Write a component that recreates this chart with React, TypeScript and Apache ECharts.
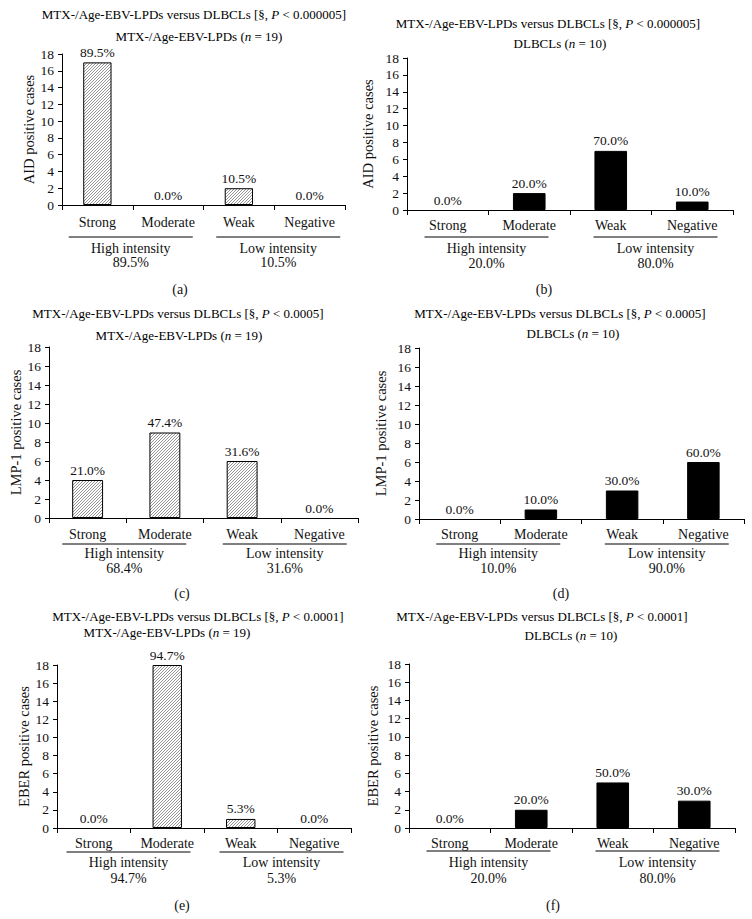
import React, { useEffect, useRef } from "react";
import * as echarts from "echarts";

// ---------- data ----------
const CATEGORIES = ["Strong", "Moderate", "Weak", "Negative"];
const GROUPS = ["High intensity", "Low intensity"];
const Y_NAMES = ["AID positive cases", "LMP-1 positive cases", "EBER positive cases"];
const P_VALUES = ["0.000005", "0.0005", "0.0001"];
const COHORTS = ["MTX-/Age-EBV-LPDs", "DLBCLs"];
const COHORT_N = ["19", "10"];
const PANEL_TAGS = ["(a)", "(b)", "(c)", "(d)", "(e)", "(f)"];
const Y_MIN = 0;
const Y_MAX = 18;
const Y_INTERVAL = 2;

const AID_MTX = [17, 0, 2, 0];
const AID_MTX_PCT = ["89.5%", "0.0%", "10.5%", "0.0%"];
const AID_MTX_GROUP_PCT = ["89.5%", "10.5%"];

const AID_DLBCL = [0, 2, 7, 1];
const AID_DLBCL_PCT = ["0.0%", "20.0%", "70.0%", "10.0%"];
const AID_DLBCL_GROUP_PCT = ["20.0%", "80.0%"];

const LMP_MTX = [4, 9, 6, 0];
const LMP_MTX_PCT = ["21.0%", "47.4%", "31.6%", "0.0%"];
const LMP_MTX_GROUP_PCT = ["68.4%", "31.6%"];

const LMP_DLBCL = [0, 1, 3, 6];
const LMP_DLBCL_PCT = ["0.0%", "10.0%", "30.0%", "60.0%"];
const LMP_DLBCL_GROUP_PCT = ["10.0%", "90.0%"];

const EBER_MTX = [0, 18, 1, 0];
const EBER_MTX_PCT = ["0.0%", "94.7%", "5.3%", "0.0%"];
const EBER_MTX_GROUP_PCT = ["94.7%", "5.3%"];

const EBER_DLBCL = [0, 2, 5, 3];
const EBER_DLBCL_PCT = ["0.0%", "20.0%", "50.0%", "30.0%"];
const EBER_DLBCL_GROUP_PCT = ["20.0%", "80.0%"];

const PANELS = [
  { values: AID_MTX, pcts: AID_MTX_PCT, groupPcts: AID_MTX_GROUP_PCT, marker: 0, cohort: 0 },
  { values: AID_DLBCL, pcts: AID_DLBCL_PCT, groupPcts: AID_DLBCL_GROUP_PCT, marker: 0, cohort: 1 },
  { values: LMP_MTX, pcts: LMP_MTX_PCT, groupPcts: LMP_MTX_GROUP_PCT, marker: 1, cohort: 0 },
  { values: LMP_DLBCL, pcts: LMP_DLBCL_PCT, groupPcts: LMP_DLBCL_GROUP_PCT, marker: 1, cohort: 1 },
  { values: EBER_MTX, pcts: EBER_MTX_PCT, groupPcts: EBER_MTX_GROUP_PCT, marker: 2, cohort: 0 },
  { values: EBER_DLBCL, pcts: EBER_DLBCL_PCT, groupPcts: EBER_DLBCL_GROUP_PCT, marker: 2, cohort: 1 },
];

// ---------- layout (positions / sizes only) ----------
const LAYOUT = [
  { left: 62, top: 54, width: 283, height: 151, t1: [194, 14], t2: [199, 36], catMargin: 10, lineY: 237, g1Y: 248, g2Y: 262, tag: [180, 289], nameGap: 26 },
  { left: 407, top: 58, width: 326, height: 152, t1: [548, 23], t2: [560, 43], catMargin: 8, lineY: 237, g1Y: 248, g2Y: 263, tag: [544, 289], nameGap: 32 },
  { left: 49, top: 347, width: 309, height: 171, t1: [178, 313], t2: [179, 335], catMargin: 9, lineY: 544, g1Y: 553, g2Y: 568, tag: [182, 593], nameGap: 26 },
  { left: 419, top: 348, width: 325, height: 171, t1: [560, 313], t2: [573, 333], catMargin: 8, lineY: 544, g1Y: 553, g2Y: 568, tag: [561, 593], nameGap: 31 },
  { left: 57, top: 665, width: 294, height: 163, t1: [198, 616], t2: [167, 632], catMargin: 8, lineY: 852, g1Y: 862, g2Y: 878, tag: [182, 905], nameGap: 26 },
  { left: 409, top: 664, width: 326, height: 164, t1: [542, 616], t2: [571, 635], catMargin: 8, lineY: 851, g1Y: 862, g2Y: 878, tag: [553, 905], nameGap: 29 },
];

const FONT = '"Liberation Serif", "Times New Roman", serif';
const INK = "#111111";

function makeHatch(): HTMLCanvasElement {
  const c = document.createElement("canvas");
  const s = 6;
  c.width = s;
  c.height = s;
  const ctx = c.getContext("2d")!;
  ctx.fillStyle = "#ffffff";
  ctx.fillRect(0, 0, s, s);
  ctx.strokeStyle = "#666666";
  ctx.lineWidth = 0.7;
  for (let k = -3; k <= 15; k += 3) {
    ctx.beginPath();
    ctx.moveTo(k, 0);
    ctx.lineTo(k - s, s);
    ctx.stroke();
  }
  return c;
}

export default function App() {
  const ref = useRef<HTMLDivElement>(null);

  useEffect(() => {
    if (!ref.current) return;
    const chart = echarts.init(ref.current, null, { renderer: "svg", width: 752, height: 919 });
    const hatch = makeHatch();

    const grids: any[] = [];
    const xAxes: any[] = [];
    const yAxes: any[] = [];
    const series: any[] = [];
    const graphics: any[] = [];

    PANELS.forEach((p, i) => {
      const L = LAYOUT[i];
      grids.push({ left: L.left, top: L.top, width: L.width, height: L.height, containLabel: false });
      xAxes.push({
        type: "category",
        gridIndex: i,
        data: CATEGORIES,
        axisLine: { show: true, lineStyle: { color: "#000", width: 1 } },
        axisTick: { show: true, length: 5, lineStyle: { color: "#000" } },
        axisLabel: { margin: L.catMargin, fontFamily: FONT, fontSize: 14, color: INK, interval: 0 },
        splitLine: { show: false },
      });
      yAxes.push({
        type: "value",
        gridIndex: i,
        min: Y_MIN,
        max: Y_MAX,
        interval: Y_INTERVAL,
        name: Y_NAMES[p.marker],
        nameLocation: "middle",
        nameGap: L.nameGap,
        nameTextStyle: { fontFamily: FONT, fontSize: 14.5, color: INK },
        axisLine: { show: true, lineStyle: { color: "#000", width: 1 } },
        axisTick: { show: true, length: 4, lineStyle: { color: "#000" } },
        axisLabel: { margin: 8, fontFamily: FONT, fontSize: 13.5, color: INK },
        splitLine: { show: false },
      });
      const hatched = p.cohort === 0;
      series.push({
        type: "bar",
        xAxisIndex: i,
        yAxisIndex: i,
        data: p.values.map((v) => (v === 0 ? { value: v, itemStyle: { borderWidth: 0, opacity: 0 } } : v)),
        barWidth: "40%",
        itemStyle: {
          color: hatched ? { image: hatch, repeat: "repeat" } : "#000",
          borderColor: "#000",
          borderWidth: 1,
        },
        label: {
          show: true,
          position: "top",
          distance: 3,
          fontFamily: FONT,
          fontSize: 13.5,
          color: INK,
          opacity: 1,
          formatter: (prm: any) => p.pcts[prm.dataIndex],
        },
        emphasis: { disabled: true },
      });

      // titles
      const titleRich = {
        r: { fontFamily: FONT, fontSize: 13, color: INK },
        i: { fontFamily: FONT, fontSize: 13, color: INK, fontStyle: "italic" },
      };
      graphics.push({
        type: "text",
        x: L.t1[0],
        y: L.t1[1],
        style: {
          text: `{r|${COHORTS[0]} versus ${COHORTS[1]} [§, }{i|P}{r| < ${P_VALUES[p.marker]}]}`,
          rich: titleRich,
          align: "center",
          verticalAlign: "middle",
          textAlign: "center",
          textVerticalAlign: "middle",
        },
      });
      graphics.push({
        type: "text",
        x: L.t2[0],
        y: L.t2[1],
        style: {
          text: `{r|${COHORTS[p.cohort]} (}{i|n}{r| = ${COHORT_N[p.cohort]})}`,
          rich: titleRich,
          align: "center",
          verticalAlign: "middle",
          textAlign: "center",
          textVerticalAlign: "middle",
        },
      });

      // group lines & labels
      const shifts = [-2, 4];
      GROUPS.forEach((g, gi) => {
        const cx = L.left + L.width * (0.25 + 0.5 * gi) + shifts[gi];
        graphics.push({
          type: "line",
          shape: { x1: cx - 62, y1: L.lineY, x2: cx + 62, y2: L.lineY },
          style: { stroke: "#000", lineWidth: 1 },
        });
        [g, p.groupPcts[gi]].forEach((txt, ti) => {
          graphics.push({
            type: "text",
            x: cx,
            y: ti === 0 ? L.g1Y : L.g2Y,
            style: {
              text: txt,
              font: `14px ${FONT}`,
              fill: INK,
              align: "center",
              verticalAlign: "middle",
              textAlign: "center",
              textVerticalAlign: "middle",
            },
          });
        });
      });

      graphics.push({
        type: "text",
        x: L.tag[0],
        y: L.tag[1],
        style: {
          text: PANEL_TAGS[i],
          font: `14px ${FONT}`,
          fill: INK,
          align: "center",
          verticalAlign: "middle",
          textAlign: "center",
          textVerticalAlign: "middle",
        },
      });
    });

    chart.setOption({
      animation: false,
      backgroundColor: "#ffffff",
      grid: grids,
      xAxis: xAxes,
      yAxis: yAxes,
      series,
      graphic: graphics,
    });

    return () => chart.dispose();
  }, []);

  return (
    <div
      ref={ref}
      style={{ position: "absolute", left: 0, top: 0, width: 752, height: 919, background: "#fff" }}
    />
  );
}
